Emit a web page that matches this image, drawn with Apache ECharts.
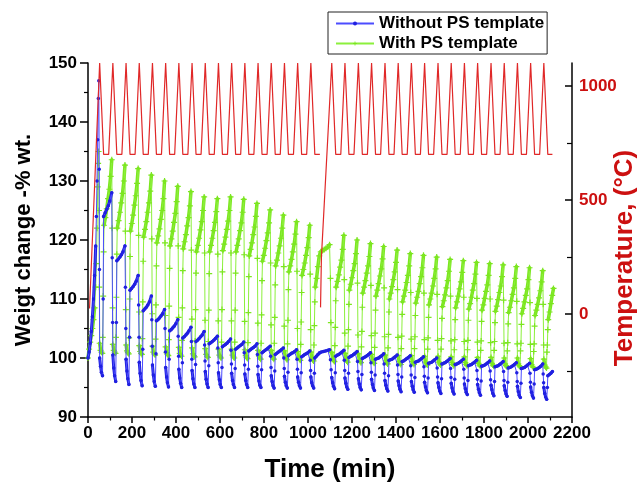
<!DOCTYPE html>
<html><head><meta charset="utf-8">
<script src="https://cdn.jsdelivr.net/npm/echarts@6/dist/echarts.min.js"></script>
<style>html,body{margin:0;padding:0;background:#fff}#c{width:638px;height:486px}</style>
</head><body><div id="c"></div><script>
// ---- data ----
// temperature peak times (min) of every heating cycle
const peakTimes = [53,113,173,233,293,353,413,473,533,593,653,713,773,833,893,953,1013,
  1108,1168,1229,1289,1350,1410,1470,1530,1591,1651,1711,1771,1832,1892,1952,2012,2072];
const tempOffsets = [0, 18, 41];       // peak, start of hold, end of hold (min after peak)
const tempLevels = [1100, 700, 700];   // deg C
const tempStart = [7, 25];             // first point (min, degC)
const tempBreakTimes = [1057, 1061];   // after cooling to room temperature
const tempBreakValues = [30, 250];
const tempEndTime = 2111;
const breakCycle = 16;

// Without PS template (blue)
const blueInitTimes = [0,5,10,15,20,25,30,35,38,41,44,47,49,51,52];
const blueInitValues = [100,101,102.5,104.5,107,110,114,119,124,130,137,144,147,132,115];
const blueOffsets = [0,4,8,13,16,18,25,32,39,46,55,57,59];
const blueCycles = [
 [100.0,98.6,97.6,97.0,110.0,124.0,124.6,125.2,125.8,126.6,128.0,117.0,106.0],
 [100.5,98.3,97.0,96.0,106.0,116.5,116.8,117.1,117.5,118.0,119.0,112.0,105.0],
 [99.8,97.8,96.5,95.5,103.5,111.5,111.8,112.1,112.5,113.0,114.0,109.0,103.5],
 [99.3,97.4,96.2,95.3,101.5,108.0,108.3,108.6,109.0,109.5,110.5,106.5,102.0],
 [98.8,97.1,96.0,95.2,100.7,106.3,106.5,106.8,107.1,107.5,108.2,105.0,101.0],
 [98.4,96.8,95.8,95.1,99.8,104.6,104.8,105.1,105.4,105.8,106.5,103.7,100.3],
 [98.1,96.6,95.7,95.0,99.2,103.4,103.6,103.9,104.2,104.6,105.2,102.8,99.8],
 [97.9,96.5,95.6,95.0,98.9,102.8,103.0,103.3,103.6,103.9,104.5,102.2,99.5],
 [97.7,96.4,95.6,95.0,98.7,102.4,102.6,102.8,103.0,103.3,103.7,101.7,99.2],
 [97.5,96.3,95.5,95.0,98.4,101.9,102.1,102.3,102.5,102.8,103.2,101.3,99.0],
 [97.4,96.2,95.5,95.0,98.2,101.5,101.7,101.9,102.1,102.3,102.7,100.9,98.8],
 [97.3,96.2,95.5,95.0,98.1,101.2,101.4,101.6,101.8,102.0,102.4,100.6,98.6],
 [97.2,96.1,95.4,95.0,98.0,100.9,101.1,101.3,101.5,101.7,102.0,100.3,98.4],
 [97.0,96.0,95.3,94.9,97.8,100.6,100.8,101.0,101.2,101.4,101.7,100.0,98.2],
 [96.9,95.9,95.3,94.9,97.6,100.4,100.6,100.8,100.9,101.1,101.4,99.8,98.1],
 [96.8,95.9,95.3,94.9,97.5,100.2,100.4,100.6,100.7,100.9,101.2,99.6,97.9],
 null,
 [96.7,95.8,95.2,94.8,97.5,100.3,100.5,100.6,100.8,101.0,101.3,99.6,97.9],
 [96.6,95.7,95.1,94.7,97.4,100.1,100.3,100.4,100.6,100.8,101.1,99.4,97.7],
 [96.5,95.6,95.0,94.6,97.2,99.9,100.1,100.2,100.4,100.6,100.9,99.2,97.6],
 [96.4,95.5,94.9,94.5,97.1,99.8,99.9,100.0,100.2,100.4,100.7,99.0,97.4],
 [96.2,95.4,94.8,94.4,97.0,99.6,99.7,99.8,100.0,100.2,100.5,98.8,97.2],
 [96.1,95.3,94.7,94.3,96.8,99.4,99.5,99.7,99.9,100.1,100.4,98.7,97.1],
 [96.0,95.2,94.6,94.2,96.7,99.3,99.4,99.5,99.7,99.9,100.2,98.5,96.9],
 [95.9,95.1,94.5,94.1,96.6,99.1,99.2,99.3,99.5,99.7,100.0,98.3,96.8],
 [95.8,95.0,94.4,94.0,96.5,99.0,99.1,99.2,99.4,99.6,99.9,98.2,96.7],
 [95.7,94.9,94.3,93.9,96.4,98.9,99.0,99.1,99.3,99.5,99.8,98.1,96.6],
 [95.6,94.8,94.2,93.8,96.2,98.7,98.8,98.9,99.1,99.3,99.6,97.9,96.4],
 [95.5,94.7,94.1,93.7,96.1,98.6,98.7,98.8,99.0,99.2,99.5,97.8,96.3],
 [95.4,94.6,94.0,93.6,96.0,98.5,98.6,98.7,98.9,99.1,99.4,97.7,96.2],
 [95.3,94.5,93.9,93.5,95.9,98.3,98.4,98.5,98.7,98.9,99.2,97.5,96.0],
 [95.2,94.3,93.7,93.3,95.7,98.2,98.3,98.4,98.6,98.8,99.1,97.4,95.9],
 [95.1,94.2,93.6,93.2,95.6,98.0,98.1,98.2,98.4,98.6,99.0,97.3,95.8],
 [95.0,94.0,93.4,93.0,95.0,97.0,97.2,97.4,97.7]
];
const blueBreakTimes = [1013,1017,1021,1026,1029,1031,1038,1045,1052,1060,1070,1080,1090,1098,1102,1105];
const blueBreakValues = [96.8,95.8,95.3,94.9,97.4,100.0,100.3,100.6,100.9,101.0,101.1,101.2,101.3,101.4,99.7,98.0];

// With PS template (green)
const greenInitTimes = [0,5,10,15,20,25,30,35,38,41,44,46,48,50,51.5];
const greenInitValues = [100,101.5,102.7,103.8,105,106.5,108.5,112,116,122,129,133,135,125,112];
const greenOffsets = [0,4,8,12,14,16,18,20,26,32,38,44,50,55,57,59];
const greenCycles = [
 [102.5,101.3,101.0,100.8,103.5,110.5,118.0,122.5,123.8,125.3,127.0,128.6,130.8,133.6,122.0,108.5],
 [102.3,101.3,101.0,100.8,103.5,110.3,117.6,122.0,123.3,124.7,126.3,127.9,130.0,132.7,121.5,108.2],
 [102.2,101.2,100.9,100.7,103.4,110.0,117.2,121.5,122.8,124.2,125.9,127.5,129.6,132.1,120.8,107.8],
 [102.1,101.1,100.8,100.6,103.3,109.5,116.4,120.5,121.8,123.1,124.7,126.3,128.3,131.0,120.2,107.5],
 [102.0,101.0,100.7,100.5,103.2,109.0,115.6,119.5,120.7,121.9,123.5,125.0,127.0,130.0,119.5,107.2],
 [101.9,100.9,100.6,100.4,103.1,108.8,115.2,119.0,120.2,121.5,123.0,124.5,126.5,129.1,119.0,106.9],
 [101.8,100.8,100.5,100.3,103.0,108.5,114.8,118.5,119.7,120.9,122.4,123.8,125.8,128.2,118.3,106.6],
 [101.7,100.7,100.4,100.2,102.9,108.2,114.4,118.0,119.1,120.3,121.7,123.1,125.0,127.3,117.8,106.4],
 [101.6,100.6,100.3,100.1,102.8,108.1,114.3,118.0,119.1,120.3,121.6,123.0,124.8,127.0,117.6,106.3],
 [101.5,100.5,100.2,100.0,102.7,108.2,114.6,118.2,119.3,120.5,121.8,123.2,125.0,127.3,117.8,106.3],
 [101.5,100.5,100.2,100.0,102.7,108.1,114.4,118.0,119.1,120.2,121.6,122.9,124.7,126.9,117.5,106.2],
 [101.4,100.4,100.1,99.9,102.6,107.7,113.8,117.3,118.4,119.5,120.9,122.2,124.0,126.2,116.9,105.9],
 [101.3,100.3,100.0,99.8,102.5,107.3,113.1,116.4,117.4,118.6,119.9,121.2,122.9,125.1,116.1,105.6],
 [101.3,100.3,100.0,99.8,102.5,106.9,112.4,115.6,116.6,117.8,119.0,120.3,122.0,124.2,115.5,105.4],
 [101.2,100.2,99.9,99.7,102.4,106.4,111.6,114.6,115.6,116.7,118.0,119.3,121.0,123.1,114.7,105.0],
 [101.1,100.1,99.8,99.6,102.3,106.1,111.1,114.0,115.0,116.1,117.4,118.7,120.4,122.5,114.2,104.8],
 null,
 [100.9,99.9,99.6,99.4,102.1,105.2,109.7,112.0,113.0,114.1,115.4,116.6,118.4,120.8,113.3,104.2],
 [100.8,99.8,99.5,99.3,102.0,104.8,109.1,111.5,112.5,113.6,114.8,116.0,117.7,120.0,112.7,103.9],
 [100.7,99.7,99.4,99.2,101.9,104.5,108.6,111.0,112.0,113.1,114.4,115.6,117.2,119.4,112.3,103.8],
 [100.6,99.6,99.3,99.1,101.8,104.2,108.1,110.5,111.5,112.6,113.9,115.1,116.8,118.9,111.9,103.6],
 [100.5,99.5,99.2,99.0,101.7,104.0,107.8,110.0,111.0,112.1,113.3,114.6,116.2,118.3,111.6,103.5],
 [100.4,99.4,99.1,98.9,101.6,103.7,107.4,109.5,110.5,111.5,112.8,114.0,115.6,117.7,111.1,103.2],
 [100.4,99.4,99.1,98.9,101.6,103.6,107.2,109.3,110.3,111.3,112.6,113.8,115.3,117.4,111.0,103.1],
 [100.3,99.3,99.0,98.8,101.5,103.4,106.9,109.0,110.0,111.0,112.2,113.5,115.1,117.1,110.8,103.0],
 [100.3,99.3,99.0,98.8,101.5,103.3,106.7,108.7,109.7,110.7,111.9,113.1,114.7,116.7,110.5,102.9],
 [100.2,99.2,98.9,98.7,101.4,103.1,106.5,108.5,109.5,110.5,111.7,112.9,114.5,116.5,110.3,102.8],
 [100.2,99.2,98.9,98.7,101.4,103.0,106.4,108.3,109.2,110.3,111.5,112.6,114.2,116.2,110.1,102.7],
 [100.1,99.1,98.8,98.6,101.3,102.9,106.2,108.1,109.0,110.1,111.3,112.4,114.0,116.0,110.0,102.6],
 [100.1,99.1,98.8,98.6,101.3,102.8,106.0,107.9,108.8,109.9,111.1,112.2,113.8,115.8,109.8,102.5],
 [100.0,99.0,98.7,98.5,101.2,102.6,105.8,107.7,108.6,109.7,110.8,111.9,113.5,115.5,109.6,102.4],
 [100.0,99.0,98.7,98.5,101.2,102.5,105.7,107.5,108.4,109.5,110.6,111.7,113.3,115.3,109.4,102.3],
 [99.9,98.9,98.6,98.4,101.1,102.4,105.4,107.2,108.1,109.1,110.2,111.4,112.9,114.8,109.1,102.2],
 [99.8,98.8,98.5,98.3,101.0,102.2,104.8,106.5,107.8,109.2,110.6,111.8]
];
const greenBreakTimes = [1013,1017,1021,1025,1027,1029,1031,1033,1039,1045,1051,1058,1066,1074,1082,1090,1098,1102,1104,1106];
const greenBreakValues = [101.0,100.0,99.7,99.5,102.2,105.5,109.5,112.0,113.5,115.5,117.3,118.0,118.2,118.4,118.6,118.8,119.2,113.5,106.0,101.0];

// which sample indices belong to the slow (densely sampled) parts of a cycle
const blueDense = [[0, 3], [5, 10]], blueBreakDense = [[0, 3], [5, 13]], blueInitDense = [[0, 7]];
const greenDense = [[0, 3], [7, 13]], greenBreakDense = [[0, 3], [7, 16]], greenInitDense = [[0, 6]];

const xTicks = {min:0, max:2200, step:200};
const leftTicks = {min:90, max:150, step:10};
const rightRange = {min:-450, max:1100};
const rightMajor = [0, 500, 1000];
const rightMinor = [-250, 250, 750];

// ---- build series ----
function cyclePoints(initT, initV, offsets, cycles, brT, brV) {
  // returns list of segments: {pts, kind}
  const segs = [{pts: initT.map((t, i) => [t, initV[i]]), kind: 'init'}];
  peakTimes.forEach((p, k) => {
    const row = cycles[k];
    if (row === null) segs.push({pts: brT.map((t, i) => [t, brV[i]]), kind: 'break'});
    else segs.push({pts: row.map((v, i) => [p + offsets[i], v]), kind: 'cycle'});
  });
  return segs;
}
function flat(segs) { const d = []; segs.forEach(s => s.pts.forEach(q => d.push(q))); return d; }
function band(segs, groups) {
  const d = [];
  segs.forEach(s => {
    groups[s.kind].forEach(([a, b]) => {
      const part = s.pts.slice(a, b + 1);
      if (part.length > 1) { part.forEach(q => d.push(q)); d.push([part[part.length - 1][0] + 0.01, '-']); }
    });
  });
  return d;
}
const blueSegs = cyclePoints(blueInitTimes, blueInitValues, blueOffsets, blueCycles, blueBreakTimes, blueBreakValues);
const greenSegs = cyclePoints(greenInitTimes, greenInitValues, greenOffsets, greenCycles, greenBreakTimes, greenBreakValues);
const blueData = flat(blueSegs), greenData = flat(greenSegs);
const blueBand = band(blueSegs, {init: blueInitDense, cycle: blueDense, break: blueBreakDense});
const greenBand = band(greenSegs, {init: greenInitDense, cycle: greenDense, break: greenBreakDense});

const tempData = [tempStart.slice()];
peakTimes.forEach((p, k) => {
  tempOffsets.forEach((o, i) => { const t = p + o; if (t <= tempEndTime) tempData.push([t, tempLevels[i]]); });
  if (k === breakCycle) {
    tempData.push([p + tempOffsets[2] + 1, '-']);
    tempBreakTimes.forEach((t, i) => tempData.push([t, tempBreakValues[i]]));
  }
});
if (tempData[tempData.length - 1][0] < tempEndTime) tempData.push([tempEndTime, tempLevels[2]]);

const F = 'Liberation Sans, Arial, sans-serif';
const RED = '#cc1010';
const GREEN = '#7ce620', BLUE = '#2020e0';
const plus = 'path://M4,0H6V4H10V6H6V10H4V6H0V4H4Z';
const plain = v => String(v);
const chart = echarts.init(document.getElementById('c'), null, {renderer: 'canvas'});
chart.setOption({
  animation: false,
  backgroundColor: '#fff',
  grid: {left: 88, right: 66, top: 63, bottom: 69, containLabel: false, outerBoundsMode: 'none'},
  legend: {
    data: ['Without PS template', 'With PS template'],
    orient: 'vertical', left: 328, top: 12,
    padding: [3, 3, 2, 7], itemGap: 3, itemWidth: 38, itemHeight: 5,
    borderColor: '#222', borderWidth: 1, borderRadius: 0, backgroundColor: '#fff',
    textStyle: {fontFamily: F, fontWeight: 'bold', fontSize: 17, color: '#000'}
  },
  graphic: [{
    type: 'text', x: 625, y: 258, rotation: Math.PI / 2,
    style: {text: 'Temperature, (°C)', font: 'bold 26px Liberation Sans, Arial, sans-serif',
            fill: RED, align: 'center', verticalAlign: 'middle'}
  }],
  xAxis: {
    type: 'value', min: xTicks.min, max: xTicks.max, interval: xTicks.step,
    name: 'Time (min)', nameLocation: 'middle', nameGap: 40,
    nameTextStyle: {fontFamily: F, fontWeight: 'bold', fontSize: 26, color: '#000'},
    axisLine: {show: true, onZero: false, lineStyle: {color: '#000', width: 1.5}},
    axisTick: {show: true, inside: false, length: 6, lineStyle: {color: '#000', width: 1.5}},
    minorTick: {show: true, splitNumber: 2, length: 3.5, lineStyle: {color: '#000', width: 1.2}},
    axisLabel: {margin: 8, formatter: plain, fontFamily: F, fontWeight: 'bold', fontSize: 17, color: '#000'},
    splitLine: {show: false}
  },
  yAxis: [
    {
      type: 'value', position: 'left', min: leftTicks.min, max: leftTicks.max, interval: leftTicks.step,
      name: 'Weigt change -% wt.', nameLocation: 'middle', nameGap: 53, nameRotate: 90,
      nameTextStyle: {fontFamily: F, fontWeight: 'bold', fontSize: 22, color: '#000'},
      axisLine: {show: true, onZero: false, lineStyle: {color: '#000', width: 1.5}},
      axisTick: {show: true, inside: false, length: 8, lineStyle: {color: '#000', width: 1.5}},
      minorTick: {show: true, splitNumber: 2, length: 4, lineStyle: {color: '#000', width: 1.2}},
      axisLabel: {margin: 11, formatter: plain, fontFamily: F, fontWeight: 'bold', fontSize: 17, color: '#000'},
      splitLine: {show: false}
    },
    {
      type: 'value', position: 'right', min: rightRange.min, max: rightRange.max,
      axisLine: {show: true, onZero: false, lineStyle: {color: '#000', width: 1.5}},
      axisTick: {show: true, inside: true, length: 7, customValues: rightMajor, lineStyle: {color: '#000', width: 1.5}},
      axisLabel: {margin: 7, customValues: rightMajor, formatter: plain, fontFamily: F, fontWeight: 'bold', fontSize: 17, color: RED},
      splitLine: {show: false}
    },
    {
      type: 'value', position: 'right', min: rightRange.min, max: rightRange.max,
      axisLine: {show: false, onZero: false},
      axisTick: {show: true, inside: true, length: 5, customValues: rightMinor, lineStyle: {color: '#000', width: 1.2}},
      axisLabel: {show: false}, splitLine: {show: false}
    }
  ],
  series: [
    {
      name: 'With PS template (slow part)', type: 'line', yAxisIndex: 0, data: greenBand,
      showSymbol: false, silent: true, connectNulls: false,
      lineStyle: {color: GREEN, width: 3.5, cap: 'round', join: 'round'}, z: 1
    },
    {
      name: 'With PS template', type: 'line', yAxisIndex: 0, data: greenData,
      symbol: plus, symbolSize: 6, showAllSymbol: true,
      itemStyle: {color: GREEN}, lineStyle: {color: '#8cf03c', width: 1}, z: 2
    },
    {
      name: 'Without PS template (slow part)', type: 'line', yAxisIndex: 0, data: blueBand,
      showSymbol: false, silent: true, connectNulls: false,
      lineStyle: {color: BLUE, width: 3, cap: 'round', join: 'round'}, z: 3
    },
    {
      name: 'Without PS template', type: 'line', yAxisIndex: 0, data: blueData,
      symbol: 'circle', symbolSize: 3.5, showAllSymbol: true,
      itemStyle: {color: BLUE}, lineStyle: {color: '#4c4cff', width: 1}, z: 4
    },
    {
      name: 'Temperature', type: 'line', yAxisIndex: 1, data: tempData,
      showSymbol: false, connectNulls: false,
      lineStyle: {color: '#e02828', width: 1.2}, z: 5
    }
  ]
});
</script></body></html>
